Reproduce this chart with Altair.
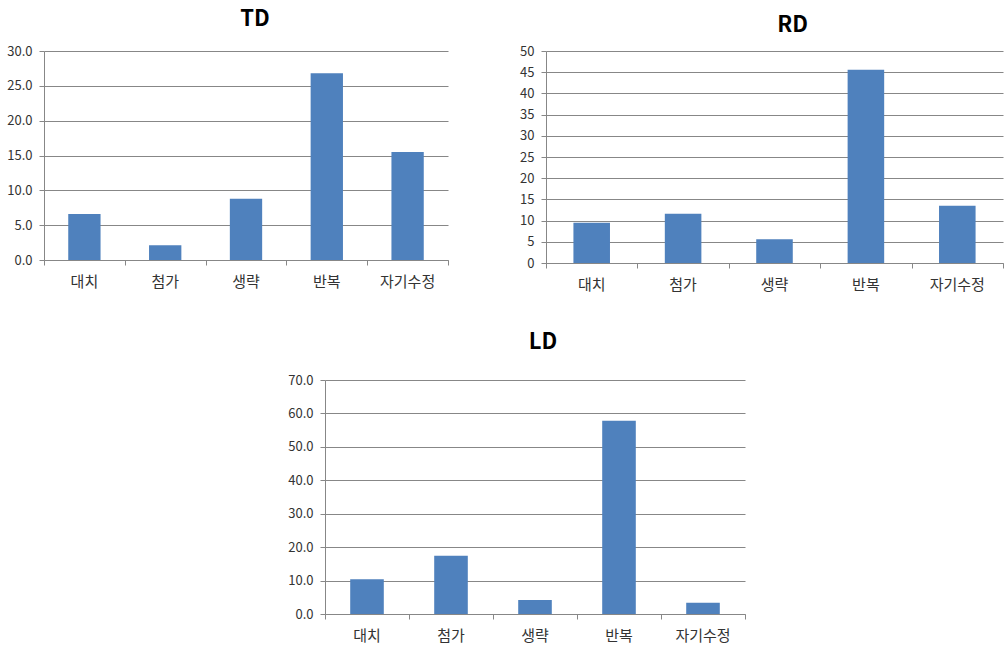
import altair as alt
import pandas as pd

# Categories of the disfluency types, shared by all three panels
categories = ["대치", "첨가", "생략", "반복", "자기수정"]

# Percentages per group
td_values = [6.6, 2.1, 8.8, 26.8, 15.5]
rd_values = [9.5, 11.6, 5.6, 45.6, 13.5]
ld_values = [10.4, 17.4, 4.2, 57.8, 3.4]

# Y-axis tick values per panel
td_ticks = [0, 5, 10, 15, 20, 25, 30]
rd_ticks = [0, 5, 10, 15, 20, 25, 30, 35, 40, 45, 50]
ld_ticks = [0, 10, 20, 30, 40, 50, 60, 70]

FONT = "Noto Sans CJK KR"
BAR_COLOR = "#4F81BD"
LINE_COLOR = "#878787"
TEXT_COLOR = "#333333"


def panel(name, values, ticks, fmt, width, height, title_dx, title_offset):
    df = pd.DataFrame({"category": categories, "value": values})
    n = len(categories)

    bars = (
        alt.Chart(df)
        .mark_bar(color=BAR_COLOR)
        .encode(
            x=alt.X(
                "category:N",
                sort=categories,
                title=None,
                scale=alt.Scale(paddingInner=0.6, paddingOuter=0.3),
                axis=alt.Axis(
                    orient="bottom",
                    labelAngle=0,
                    domain=False,
                    ticks=False,
                    labelFont=FONT,
                    labelFontSize=15,
                    labelColor=TEXT_COLOR,
                    labelPadding=14,
                    grid=False,
                ),
            ),
            y=alt.Y(
                "value:Q",
                title=None,
                scale=alt.Scale(domain=[ticks[0], ticks[-1]], nice=False),
                axis=alt.Axis(
                    values=ticks,
                    format=fmt,
                    grid=True,
                    gridColor=LINE_COLOR,
                    gridWidth=1,
                    domainColor=LINE_COLOR,
                    tickColor=LINE_COLOR,
                    tickSize=5,
                    labelFont=FONT,
                    labelFontSize=13,
                    labelColor=TEXT_COLOR,
                    labelPadding=7,
                ),
            ),
        )
    )

    # Category axis line with tick marks on the category boundaries
    boundaries = (
        alt.Chart(df)
        .mark_point(opacity=0)
        .encode(
            x=alt.XDatum(
                0,
                type="quantitative",
                title=None,
                scale=alt.Scale(domain=[0, n], nice=False, zero=False),
                axis=alt.Axis(
                    orient="bottom",
                    values=list(range(n + 1)),
                    labels=False,
                    grid=False,
                    domainColor=LINE_COLOR,
                    tickColor=LINE_COLOR,
                    tickSize=5,
                ),
            )
        )
    )

    return (
        alt.layer(
            bars,
            boundaries,
            title=alt.Title(
                name,
                font=FONT,
                fontSize=22,
                fontWeight="bold",
                color="#000000",
                frame="group",
                anchor="middle",
                dx=title_dx,
                offset=title_offset,
            ),
        )
        .resolve_scale(x="independent")
        .properties(width=width, height=height)
    )


td = panel("TD", td_values, td_ticks, ".1f", 404, 209, 9, 14)
rd = panel("RD", rd_values, rd_ticks, "d", 457, 212, 18, 8)
ld = panel("LD", ld_values, ld_ticks, ".1f", 420, 234, 8, 20)

# Empty view that indents the bottom panel
indent = (
    alt.Chart(pd.DataFrame({"v": [0]}))
    .mark_point(opacity=0)
    .properties(width=230, height=10)
)

top_row = alt.hconcat(td, rd, spacing=70)
bottom_row = alt.hconcat(indent, ld, spacing=13)

chart = (
    alt.vconcat(top_row, bottom_row, spacing=39)
    .properties(padding={"left": 6, "top": 8, "right": 0, "bottom": 0}, background="white")
    .configure_view(stroke=None)
)

chart.save("out.html", embed_options={"renderer": "svg", "actions": False})
